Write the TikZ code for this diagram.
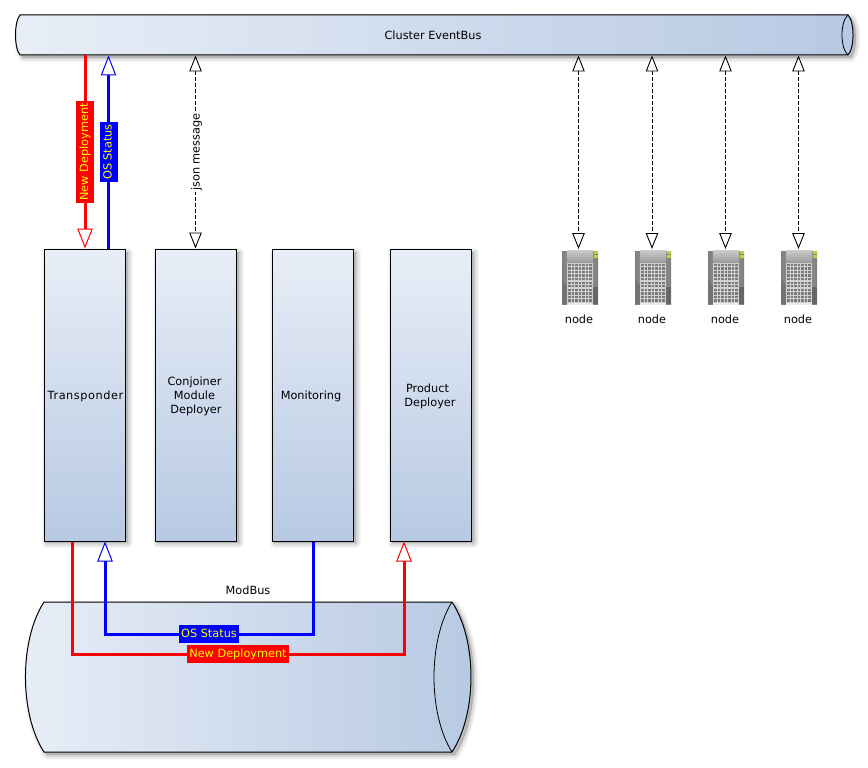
\documentclass[tikz,border=0pt]{standalone}
\usepackage{fontspec}
\setmainfont{DejaVu Sans}
\usetikzlibrary{arrows.meta,calc}
\definecolor{pale}{HTML}{E8EEF7}
\definecolor{deep}{HTML}{B7C9E3}
\definecolor{signalred}{HTML}{FF0000}
\definecolor{signalblue}{HTML}{0000FF}
\definecolor{signaltext}{HTML}{FFFF00}
\definecolor{lampgreen}{HTML}{C6CE3C}
\tikzset{
  base font/.style={font=\fontsize{11.3}{14}\selectfont},
  unit box/.style={draw=black,line width=1pt,top color=pale,bottom color=deep,
    minimum width=81.5pt,minimum height=292pt,inner sep=0pt,align=center,base font},
  plain text/.style={inner sep=0pt,align=center,base font},
  anchor box/.style={inner sep=0pt,outer sep=0pt},
  solid link/.style={line width=3pt,line cap=butt},
  red link/.style={solid link,draw=signalred,-{Triangle[length=20pt,width=15.5pt,fill=white,line width=1pt]}},
  blue link/.style={solid link,draw=signalblue,-{Triangle[length=20pt,width=15.5pt,fill=white,line width=1pt]}},
  message link/.style={draw=black,line width=.8pt,dash pattern=on 4pt off 2pt,
    {Triangle[length=16pt,width=12.5pt,fill=white,line width=.9pt]}-{Triangle[length=16pt,width=12.5pt,fill=white,line width=.9pt]}},
  tag/.style={text=signaltext,inner xsep=2.5pt,inner ysep=0pt,text height=10pt,text depth=4pt,minimum height=18pt,base font},
  red tag/.style={tag,fill=signalred},
  blue tag/.style={tag,fill=signalblue},
}
% soft drop shadow built from stacked translucent outlines
\newcommand{\softshadow}[1]{%
  \foreach \w in {9,7,5,3,1}{%
    \fill[black,opacity=.035,draw=black,draw opacity=.035,line width=\w pt,line join=round] #1;}%
}
% small server tower whose top-left corner is the origin of the scope
\newcommand{\servericon}[1]{%
  \begin{scope}[shift={#1}]
    \shade[left color=black!50,right color=black!50,middle color=black!38] (0,2) -- (36,2) -- (36,55) -- (0,55) -- cycle;
    \fill[black!55] (0,30) -- (6,38) -- (6,55) -- (0,55) -- cycle;
    \fill[black!60] (30,38) -- (36,38) -- (36,55) -- (30,55) -- cycle;
    \shade[top color=black!20,bottom color=black!40] (5,1) -- (31,1) -- (31,14) -- (5,14) -- cycle;
    \fill[black!18] (5,14) -- (31,14) -- (31,54) -- (5,54) -- cycle;
    \foreach \c in {0,...,6}{\foreach \r in {0,...,10}{%
      \fill[black!52] ({6.2+3.5*\c},{14.8+3.55*\r}) rectangle +(2.3,2.3);}}
    \fill[black!8] (5,54) -- (31,54) -- (31,56) -- (5,56) -- cycle;
    \fill[lampgreen] (32,2) rectangle (36,4.5);
    \fill[lampgreen] (32,6) rectangle (36,8.5);
  \end{scope}%
}
\begin{document}
\begin{tikzpicture}[x=1pt,y=-1pt]
\useasboundingbox[fill=white] (0,0) rectangle (868,768);

% Cluster bus: a lying cylinder along the top edge
\def\evbuspath{(20,15) -- (848,15) .. controls (854.7,22) and (854.7,48) .. (848,55) -- (20,55) .. controls (14,48) and (14,22) .. (20,15) -- cycle}
\begin{scope}[shift={(3,3)}]\softshadow{\evbuspath}\end{scope}
\draw[line width=1pt,left color=pale,right color=deep] \evbuspath;
\draw[line width=.8pt] (848,15) .. controls (840,22) and (840,48) .. (848,55);
\node[anchor box,minimum width=838pt,minimum height=40pt,base font] (evbus) at (433,35.5) {Cluster EventBus};

% Module bus: a lying cylinder along the bottom edge
\def\modbuspath{(44,602) -- (452,602) .. controls (477.3,640) and (477.3,714) .. (452,752) -- (44,752) .. controls (19.3,714) and (19.3,640) .. (44,602) -- cycle}
\begin{scope}[shift={(3,3)}]\softshadow{\modbuspath}\end{scope}
\draw[line width=1pt,left color=pale,right color=deep] \modbuspath;
\draw[line width=.8pt] (452,602) .. controls (428,640) and (428,714) .. (452,752);
\node[anchor box,minimum width=446pt,minimum height=150pt] (modbus) at (248,677) {};
\node[plain text] (modbustitle) at (248,590.5) {ModBus};

% Service boxes
\foreach \px in {44,155,272,390}{%
  \begin{scope}[shift={(\px+2,252)}]
    \softshadow{(0,0) rectangle (82,291)}
  \end{scope}}
\node[unit box] (tr) at (85,395) {};
\node[plain text] (trtext) at (85.5,396.5) {\addfontfeatures{LetterSpace=5}Transponder};
\node[unit box] (cj) at (196,395) {};
\node[plain text] (cjtext) at (194.5,396.5) {Conjoiner\\Module\\\hspace*{3pt}Deployer};
\node[unit box] (mo) at (313,395) {};
\node[plain text] (motext) at (311,396.5) {Monitoring};
\node[unit box] (pd) at (431,395) {};
\node[plain text] (pdtext) at (430,396.5) {Product\hspace*{5pt}\\Deployer};

% Server towers
\foreach \sx/\sn in {562/a,635/b,708/c,781/d}{%
  \servericon{(\sx,249)}
  \node[anchor box,minimum width=36pt,minimum height=56pt] (srv\sn) at (\sx+18,277) {};
  \node[plain text] (srvtext\sn) at (\sx+17,319) {node};
}

% Links between the services and the cluster bus
\draw[red link] (85,0 |- evbus.south) -- node[red tag,rotate=90] (newdeptop) {New Deployment} (85,0 |- tr.north);
\draw[blue link] (108.5,0 |- tr.north) -- node[blue tag,rotate=90] (osstatustop) {OS Status} (108.5,0 |- evbus.south);
\draw[message link] (195.5,0 |- evbus.south) -- node[fill=white,xshift=1pt,inner xsep=1pt,inner ysep=0pt,rotate=90,base font] (jsonmsg) {json message} (195.5,0 |- cj.north);
\foreach \lx/\sn in {578.5/a,652/b,725.5/c,798.5/d}{%
  \draw[message link] (\lx,0 |- evbus.south) -- (\lx,0 |- srv\sn.north);
}

% Links running through the module bus
\coordinate (redturnA) at (72,654);
\coordinate (redturnB) at (404,654);
\coordinate (blueturnA) at (313,634);
\coordinate (blueturnB) at (105,634);
\draw[red link] (redturnA |- tr.south) -- (redturnA) -- node[red tag] (newdepbottom) {New Deployment} (redturnB) -- (redturnB |- pd.south);
\draw[blue link] (blueturnA |- mo.south) -- (blueturnA) -- node[blue tag] (osstatusbottom) {OS Status} (blueturnB) -- (blueturnB |- tr.south);
\end{tikzpicture}
\end{document}
